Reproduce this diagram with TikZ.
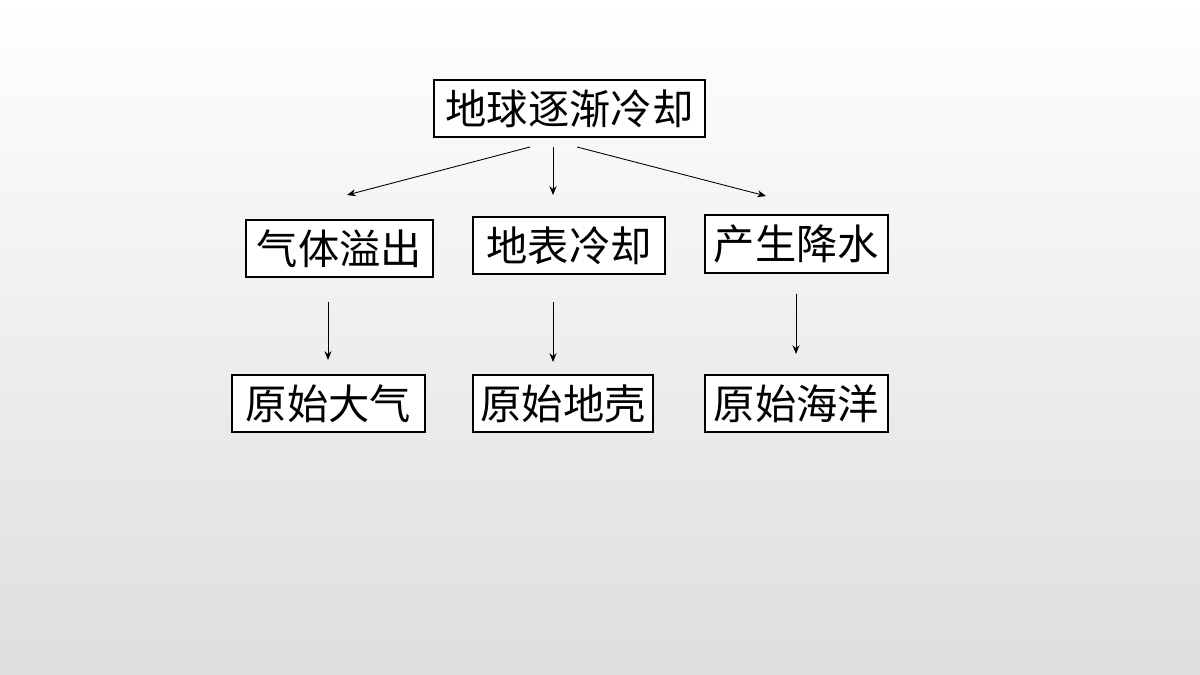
\documentclass[tikz,border=0pt]{standalone}
\usepackage{fontspec}
\setmainfont{Noto Sans CJK SC}
\usetikzlibrary{arrows.meta}
\begin{document}
\begin{tikzpicture}[x=0.02cm,y=-0.02cm,
  box/.style={draw=black,line width=0.7pt,fill=white,inner sep=0pt,font=\fontsize{23.5}{26}\selectfont},
  arr/.style={-{Stealth[length=5pt,width=4pt]},line width=0.5pt}]
\shade[top color=white,bottom color=black!13] (0,0) rectangle (1200,675);
\useasboundingbox (0,0) rectangle (1200,675);
\node[box,minimum width=271*0.02cm,minimum height=57*0.02cm] (top) at (569.5,108.5) {地球逐渐冷却};
\node[box,minimum width=187*0.02cm,minimum height=57*0.02cm] (a) at (339.5,248.5) {气体溢出};
\node[box,minimum width=192*0.02cm,minimum height=57*0.02cm] (b) at (569,245.5) {地表冷却};
\node[box,minimum width=183*0.02cm,minimum height=58*0.02cm] (c) at (796.5,244) {产生降水};
\node[box,minimum width=193*0.02cm,minimum height=57*0.02cm] (d) at (328.5,403.5) {原始大气};
\node[box,minimum width=180*0.02cm,minimum height=57*0.02cm] (e) at (563,403.5) {原始地壳};
\node[box,minimum width=183*0.02cm,minimum height=57*0.02cm] (f) at (796.5,403.5) {原始海洋};
\coordinate (t1) at (530,147); \coordinate (a1) at (347,195);
\coordinate (t2) at (553,147); \coordinate (b1) at (553,195);
\coordinate (t3) at (577,147); \coordinate (c1) at (766,196);
\coordinate (a2) at (328,302); \coordinate (d1) at (328,360);
\coordinate (b2) at (553,302); \coordinate (e1) at (553,362);
\coordinate (c2) at (796,294); \coordinate (f1) at (796,354);
\draw[arr] (t1)--(a1); \draw[arr] (t2)--(b1); \draw[arr] (t3)--(c1);
\draw[arr] (a2)--(d1); \draw[arr] (b2)--(e1); \draw[arr] (c2)--(f1);
\end{tikzpicture}
\end{document}
